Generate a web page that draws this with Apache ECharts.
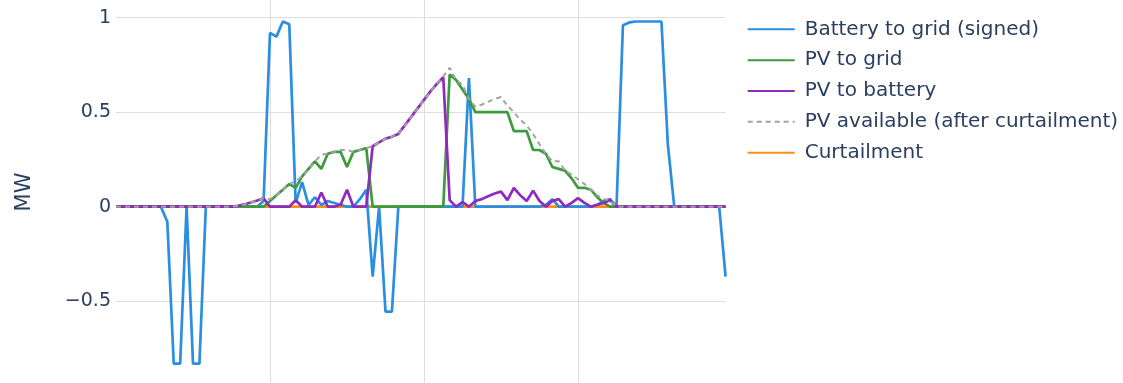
<!DOCTYPE html>
<html>
<head>
<meta charset="utf-8">
<script src="https://cdn.jsdelivr.net/npm/echarts@6/dist/echarts.min.js"></script>
<style>
  html, body { margin: 0; padding: 0; background: #fff; }
  #chart { width: 1123px; height: 383px; }
</style>
</head>
<body>
<div id="chart"></div>
<script>
// 15-minute steps over one day, 00:00 .. 23:45
const times = [];
for (let h = 0; h < 24; h++) {
  for (let m = 0; m < 60; m += 15) {
    times.push(String(h).padStart(2, '0') + ':' + String(m).padStart(2, '0'));
  }
}

const batteryToGrid = [
  0, 0, 0, 0, 0, 0, 0, 0, -0.08, -0.83, -0.83, 0, -0.83, -0.83, 0, 0,
  0, 0, 0, 0, 0, 0, 0, 0.03, 0.92, 0.9, 0.98, 0.965, 0.02, 0.13, 0.01, 0.05,
  0.01, 0.03, 0.02, 0.01, 0, 0, 0.04, 0.09, -0.37, 0, -0.555, -0.555, 0, 0, 0, 0,
  0, 0, 0, 0, 0, 0, 0, 0.68, 0, 0, 0, 0, 0, 0, 0, 0,
  0, 0, 0, 0.01, 0.04, 0, 0, 0, 0, 0, 0, 0.01, 0.03, 0.04, 0, 0.96,
  0.975, 0.98, 0.98, 0.98, 0.98, 0.98, 0.33, 0, 0, 0, 0, 0, 0, 0, 0, -0.37
];

const pvToGrid = [
  0, 0, 0, 0, 0, 0, 0, 0, 0, 0, 0, 0, 0, 0, 0, 0,
  0, 0, 0, 0, 0, 0, 0, 0, 0.03, 0.06, 0.09, 0.12, 0.1, 0.16, 0.2, 0.24,
  0.2, 0.28, 0.29, 0.29, 0.21, 0.29, 0.3, 0.31, 0, 0, 0, 0, 0, 0, 0, 0,
  0, 0, 0, 0, 0.7, 0.67, 0.62, 0.57, 0.5, 0.5, 0.5, 0.5, 0.5, 0.5, 0.4, 0.4,
  0.4, 0.3, 0.3, 0.28, 0.21, 0.2, 0.19, 0.15, 0.1, 0.1, 0.09, 0.05, 0.02, 0, 0, 0,
  0, 0, 0, 0, 0, 0, 0, 0, 0, 0, 0, 0, 0, 0, 0, 0
];

const pvToBattery = [
  0, 0, 0, 0, 0, 0, 0, 0, 0, 0, 0, 0, 0, 0, 0, 0,
  0, 0, 0, 0.005, 0.012, 0.022, 0.033, 0.045, 0, 0, 0, 0, 0.035, 0, 0, 0,
  0.075, 0, 0, 0.01, 0.09, 0, 0, 0, 0.32, 0.34, 0.36, 0.37, 0.385, 0.43, 0.475, 0.52,
  0.565, 0.61, 0.65, 0.685, 0.035, 0, 0.025, 0, 0.03, 0.04, 0.055, 0.07, 0.08, 0.035, 0.1, 0.06,
  0.03, 0.085, 0.03, 0, 0.03, 0.04, 0, 0.02, 0.045, 0.02, 0, 0.01, 0.02, 0.035, 0, 0,
  0, 0, 0, 0, 0, 0, 0, 0, 0, 0, 0, 0, 0, 0, 0, 0
];

const pvAvailable = [
  0, 0, 0, 0, 0, 0, 0, 0, 0, 0, 0, 0, 0, 0, 0, 0,
  0, 0, 0, 0.005, 0.012, 0.022, 0.033, 0.045, 0.04, 0.06, 0.09, 0.12, 0.135, 0.16, 0.2, 0.24,
  0.275, 0.28, 0.29, 0.3, 0.3, 0.29, 0.3, 0.31, 0.32, 0.34, 0.36, 0.37, 0.385, 0.43, 0.475, 0.52,
  0.565, 0.61, 0.65, 0.69, 0.735, 0.67, 0.645, 0.57, 0.53, 0.54, 0.555, 0.57, 0.58, 0.535, 0.5, 0.46,
  0.43, 0.385, 0.33, 0.28, 0.24, 0.24, 0.19, 0.17, 0.145, 0.12, 0.09, 0.06, 0.04, 0.035, 0, 0,
  0, 0, 0, 0, 0, 0, 0, 0, 0, 0, 0, 0, 0, 0, 0, 0
];

const curtailment = [
  0, 0, 0, 0, 0, 0, 0, 0, 0, 0, 0, 0, 0, 0, 0, 0,
  0, 0, 0, 0, 0, 0, 0, 0, 0, 0, 0, 0, 0, 0, 0, 0,
  0, 0, 0, 0, 0, 0, 0, 0, 0, 0, 0, 0, 0, 0, 0, 0,
  0, 0, 0, 0, 0, 0, 0, 0, 0, 0, 0, 0, 0, 0, 0, 0,
  0, 0, 0, 0, 0, 0, 0, 0, 0, 0, 0, 0, 0, 0, 0, 0,
  0, 0, 0, 0, 0, 0, 0, 0, 0, 0, 0, 0, 0, 0, 0, 0
];

const yTickLabels = {'-1': '\u22121', '-0.5': '\u22120.5', '0': '0', '0.5': '0.5', '1': '1', '1.5': '1.5'};

const textColor = '#2a3f5f';
const font = '"DejaVu Sans", Verdana, sans-serif';

const chart = echarts.init(document.getElementById('chart'), null, {renderer: 'canvas'});

function line(name, data, color, z, extra) {
  return Object.assign({
    name: name,
    type: 'line',
    data: data,
    z: z,
    showSymbol: false,
    symbol: 'none',
    lineStyle: {color: color, width: 2.7},
    itemStyle: {color: color}
  }, extra || {});
}

chart.setOption({
  animation: false,
  textStyle: {fontFamily: font},
  grid: {
    left: 116,
    top: -76.8,
    width: 609.6,
    height: 472.5,
    containLabel: false,
    outerBoundsMode: 'none'
  },
  legend: {
    orient: 'vertical',
    left: 746.7,
    top: 19.3,
    padding: 0,
    itemWidth: 47,
    itemHeight: 14,
    itemGap: 10.85,
    itemStyle: {opacity: 0, borderWidth: 0},
    textStyle: {
      color: textColor,
      fontSize: 20,
      fontFamily: font,
      lineHeight: 20,
      padding: [0, 0, 0, 5]
    },
    data: ['Battery to grid (signed)', 'PV to grid', 'PV to battery',
           'PV available (after curtailment)', 'Curtailment']
  },
  xAxis: {
    type: 'category',
    data: times,
    boundaryGap: false,
    axisLine: {show: false},
    axisTick: {show: false},
    axisLabel: {show: false},
    splitLine: {
      show: true,
      interval: (idx) => idx > 0 && idx % 24 === 0,
      lineStyle: {color: '#dedede', width: 1}
    }
  },
  yAxis: {
    type: 'value',
    min: -1,
    max: 1.5,
    interval: 0.5,
    axisLine: {show: false},
    axisTick: {show: false},
    axisLabel: {
      color: textColor,
      fontSize: 19,
      fontFamily: font,
      margin: 5,
      formatter: (v) => yTickLabels[String(v)] || String(v)
    },
    splitLine: {lineStyle: {color: '#dedede', width: 1}}
  },
  graphic: [{
    type: 'text',
    x: 25,
    y: 192,
    rotation: Math.PI / 2,
    style: {
      text: 'MW',
      fill: textColor,
      font: '21px ' + font,
      align: 'center',
      verticalAlign: 'middle'
    }
  }],
  series: [
    line('Battery to grid (signed)', batteryToGrid, '#2b8ee0', 3),
    line('PV to grid', pvToGrid, '#3d9a3d', 4),
    line('PV to battery', pvToBattery, '#8e2bbd', 5),
    line('PV available (after curtailment)', pvAvailable, '#a3a3a3', 6,
      {lineStyle: {color: '#a3a3a3', width: 2, type: [5, 4]}}),
    line('Curtailment', curtailment, '#ff8c1a', 2)
  ]
});
</script>
</body>
</html>
